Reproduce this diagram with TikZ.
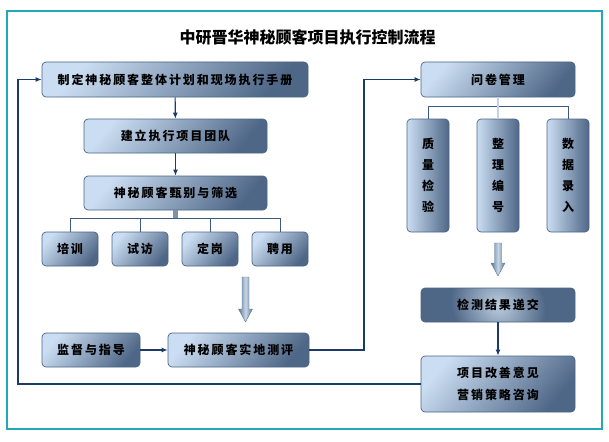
\documentclass[tikz,border=0pt]{standalone}
\usepackage{fontspec}
\newfontfamily\cjk{Noto Sans CJK SC}[LetterSpace=16]
\newfontfamily\cjktitle{Noto Sans CJK SC}
\usetikzlibrary{arrows.meta}
\definecolor{boxlight}{HTML}{CADDF2}
\definecolor{boxdark}{HTML}{4F6787}
\definecolor{boxmid}{HTML}{BCCEE0}
\definecolor{boxedge}{HTML}{4A6584}
\definecolor{linkblue}{HTML}{1C3C68}
\definecolor{branchgray}{HTML}{3E5A7C}
\definecolor{stemlight}{HTML}{C4D4E4}
\definecolor{stubgray}{HTML}{7D93AC}
\definecolor{arrowlight}{HTML}{C8D7E6}
\definecolor{arrowdark}{HTML}{5C7797}
\definecolor{frameteal}{HTML}{22A9B6}

\begin{document}
\begin{tikzpicture}[x=1pt, y=-1pt,
  box/.style={draw=boxedge, line width=0.7pt, rounded corners=4pt, inner sep=0pt,
    top color=boxlight, bottom color=boxdark, shading angle=50,
    font=\cjk\bfseries\fontsize{12}{14}\selectfont},
  tallbox/.style={box, left color=boxlight, right color=boxdark, align=center,
    minimum width=42pt, minimum height=113pt,
    font=\cjk\bfseries\fontsize{12}{21}\selectfont},
  darkbox/.style={box, inner color=boxmid, outer color=boxdark},
  link/.style={draw=linkblue, line width=1.1pt, -{Latex[length=6pt,width=5pt]}},
  branch/.style={draw=branchgray, line width=0.8pt},
  blockarrow/.style={draw=arrowdark, line width=0.4pt,
    left color=arrowdark, right color=arrowdark, middle color=arrowlight}]
  \useasboundingbox (0,0) rectangle (609,441);
  % outer frame and title
  \draw[frameteal, line width=1.2pt] (7,11) rectangle (602,429);
  \node[font=\cjktitle\bfseries\fontsize{16}{18}\selectfont] (title) at (307.5,37)
    {中研晋华神秘顾客项目执行控制流程};
  % left column
  \node[box, minimum width=266pt, minimum height=35pt] (plan) at (175,79.5)
    {制定神秘顾客整体计划和现场执行手册};
  \node[box, minimum width=183pt, minimum height=34pt] (team) at (175.5,136)
    {建立执行项目团队};
  \node[box, minimum width=183pt, minimum height=34pt] (screen) at (175.5,193)
    {神秘顾客甄别与筛选};
  \node[box, minimum width=56pt, minimum height=34pt] (train) at (70,249) {培训};
  \node[box, minimum width=56pt, minimum height=34pt] (trial) at (140,249) {试访};
  \node[box, minimum width=56pt, minimum height=34pt] (post) at (210,249) {定岗};
  \node[box, minimum width=56pt, minimum height=34pt] (hire) at (280,249) {聘用};
  \node[box, minimum width=98pt, minimum height=34pt] (guide) at (91,350) {监督与指导};
  \node[box, minimum width=141pt, minimum height=34pt] (survey) at (238.5,350)
    {神秘顾客实地测评};
  % right column
  \node[box, minimum width=154pt, minimum height=35pt] (quest) at (498,79.5) {问卷管理};
  \node[tallbox] (qc) at (428,175.5) {质\\量\\检\\验};
  \node[tallbox] (code) at (498,175.5) {整\\理\\编\\号};
  \node[tallbox] (entry) at (568,175.5) {数\\据\\录\\入};
  \node[darkbox, minimum width=154pt, minimum height=34pt] (submit) at (498,305)
    {检测结果递交};
  \node[box, align=center, minimum width=154pt, minimum height=56pt,
    font=\cjk\bfseries\fontsize{12}{22}\selectfont] (advice) at (498,384)
    {项目改善意见\\营销策略咨询};
  % turning points of the long connectors
  \coordinate (back) at (18,0);
  \coordinate (turn) at (364,0);
  % connectors
  \draw[link] (plan) -- (team);
  \draw[link] (team) -- (screen);
  \draw[line width=5pt, draw=stubgray] (screen.south) -- ++(0,9);
  \draw[branch] (train.north) -- ++(0,-13) -| (hire.north);
  \draw[branch] (trial.north) -- ++(0,-13);
  \draw[branch] (post.north) -- ++(0,-13);
  \draw[link] (guide) -- (survey);
  \draw[link] (survey.east) -- (survey.east -| turn) |- (quest.west);
  \draw[branch] (qc.north) -- ++(0,-12) -| (entry.north);
  \draw[line width=2.5pt, draw=stemlight] (quest.south) -- (code.north);
  \draw[link] (submit) -- (advice);
  \draw[link] (advice.west) -- (advice.west -| back) |- (plan.west);
  % hollow block arrows
  \draw[blockarrow] (242,277) -- (249,277) -- (249,309) -- (252.5,309)
    -- (245.5,322) -- (238.5,309) -- (242,309) -- cycle;
  \draw[blockarrow] (494.5,243) -- (501.5,243) -- (501.5,263) -- (505,263)
    -- (498,276) -- (491,263) -- (494.5,263) -- cycle;
\end{tikzpicture}
\end{document}
